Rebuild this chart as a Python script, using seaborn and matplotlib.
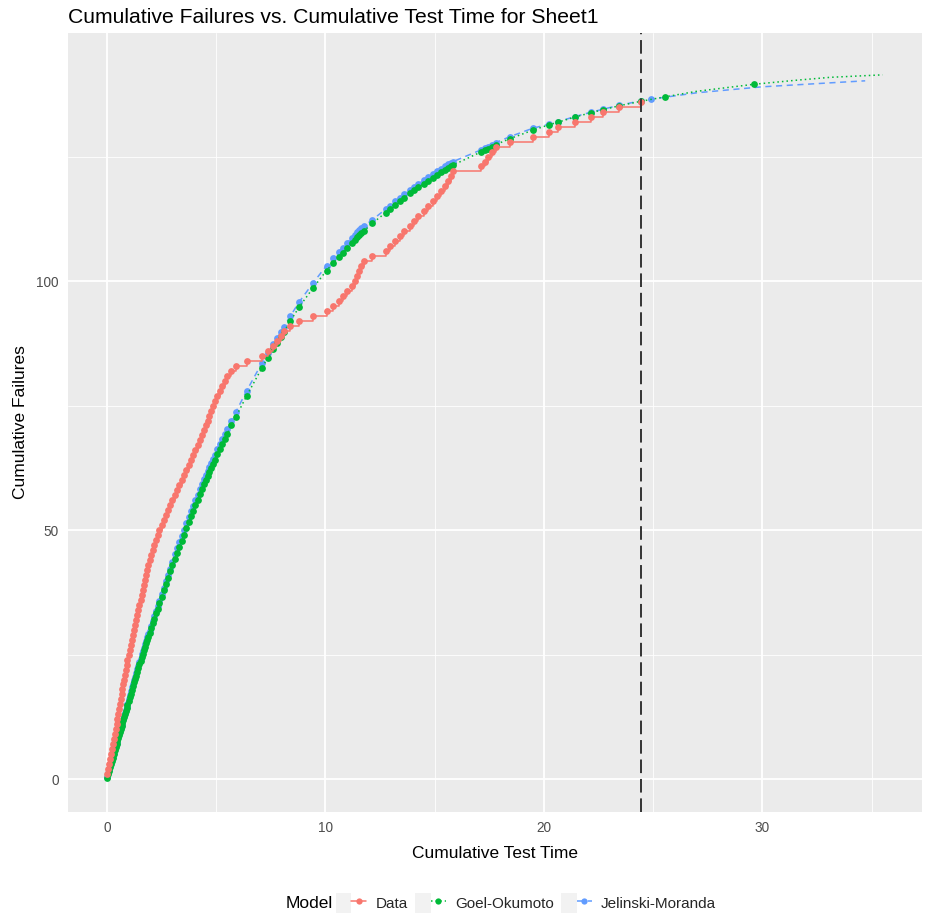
import matplotlib
matplotlib.use("Agg")
import matplotlib.pyplot as plt
import seaborn as sns
from matplotlib.lines import Line2D
from matplotlib.patches import Rectangle
from matplotlib.legend_handler import HandlerTuple

# ---------------- data ----------------
data_t = [0.02, 0.06, 0.10, 0.15, 0.19, 0.23, 0.27, 0.31, 0.36, 0.40, 0.44, 0.48,
          0.52, 0.55, 0.59, 0.63, 0.67, 0.71, 0.75, 0.78, 0.82, 0.86, 0.90, 0.94,
          0.99, 1.04, 1.09, 1.14, 1.19, 1.24, 1.29, 1.34, 1.39,
          1.44, 1.49, 1.54, 1.60, 1.65, 1.70, 1.75, 1.80, 1.85, 1.90, 1.95,
          2.02, 2.10, 2.17, 2.25, 2.32, 2.40,
          2.50, 2.60, 2.70, 2.80, 2.90, 3.00, 3.10,
          3.21, 3.32, 3.42, 3.53, 3.64, 3.75,
          3.85, 3.95, 4.05, 4.15, 4.25, 4.35,
          4.44, 4.52, 4.61, 4.69, 4.78, 4.86, 4.95,
          5.06, 5.17, 5.28, 5.39, 5.50,
          5.70, 5.90,
          6.40, 7.10, 7.35, 7.60, 7.80, 7.95, 8.10, 8.40, 8.80, 9.45,
          10.05, 10.35, 10.60, 10.80, 11.00, 11.20, 11.35, 11.45, 11.55, 11.65, 11.77,
          12.15, 12.75, 12.95, 13.20, 13.40, 13.60, 13.85, 14.05, 14.25, 14.50, 14.70,
          14.90, 15.10, 15.30, 15.45, 15.60, 15.75, 15.85,
          17.10, 17.30, 17.45, 17.60, 17.80,
          18.45, 19.50, 20.25, 20.65, 21.40, 22.15, 22.70, 23.45, 24.45]

data_n = [1, 2, 3, 4, 5, 6, 7, 8, 9, 10, 11, 12, 13, 14, 15, 16, 17, 18, 19, 20,
          21, 22, 23, 24, 25, 26, 27, 28, 29, 30, 31, 32, 33, 34, 35, 36, 37, 38, 39, 40,
          41, 42, 43, 44, 45, 46, 47, 48, 49, 50, 51, 52, 53, 54, 55, 56, 57, 58, 59, 60,
          61, 62, 63, 64, 65, 66, 67, 68, 69, 70, 71, 72, 73, 74, 75, 76, 77, 78, 79, 80,
          81, 82, 83, 84, 85, 86, 87, 88, 89, 90, 91, 92, 93, 94, 95, 96, 97, 98, 99, 100,
          101, 102, 103, 104, 105, 106, 107, 108, 109, 110, 111, 112, 113, 114, 115, 116,
          117, 118, 119, 120, 121, 122, 123, 124, 125, 126, 127, 128, 129, 130, 131, 132,
          133, 134, 135, 136]

go_n = [0.3, 1.0, 1.6, 2.4, 3.0, 3.7, 4.3, 5.0, 5.8, 6.4, 7.0, 7.7,
        8.3, 8.8, 9.4, 10.0, 10.6, 11.3, 11.9, 12.4, 13.0, 13.6, 14.2, 14.9,
        15.6, 16.4, 17.1, 17.9, 18.6, 19.4, 20.1, 20.8, 21.6,
        22.3, 23.1, 23.7, 24.6, 25.2, 25.9, 26.6, 27.3, 28.0, 28.6, 29.3,
        30.3, 31.3, 32.2, 33.3, 34.2, 35.3,
        36.6, 37.9, 39.2, 40.4, 41.7, 43.0, 44.2,
        45.4, 46.7, 47.9, 49.1, 50.4, 51.6,
        52.8, 53.9, 55.0, 56.1, 57.2, 58.2,
        59.2, 60.0, 60.9, 61.6, 62.5, 63.3, 64.1,
        65.2, 66.2, 67.2, 68.2, 69.2,
        71.0, 72.7,
        77.0, 82.6, 84.5, 86.3, 87.6, 88.7, 89.8, 92.0, 94.8, 98.7,
        102.1, 103.6, 104.8, 105.7, 106.7, 107.6, 108.3, 108.8, 109.2, 109.6, 110.1,
        111.6, 113.7, 114.4, 115.3, 116.0, 116.7, 117.6, 118.2, 118.8, 119.5, 120.1,
        120.7, 121.3, 121.8, 122.3, 122.7, 123.1, 123.3,
        125.9, 126.3, 126.6, 126.9, 127.4,
        128.6, 130.3, 131.4, 131.9, 132.9, 133.8, 134.4, 135.2, 136.1]

jm_n = [0.5, 1.2, 1.8, 2.6, 3.2, 3.9, 4.5, 5.2, 6.0, 6.6, 7.2, 7.9,
        8.5, 9.0, 9.6, 10.2, 10.8, 11.5, 12.1, 12.6, 13.2, 13.8, 14.4, 15.1,
        16.1, 16.9, 17.6, 18.4, 19.1, 19.9, 20.6, 21.3, 22.1,
        22.8, 23.6, 24.2, 25.1, 25.7, 26.4, 27.1, 27.8, 28.5, 29.1, 29.8,
        30.8, 31.8, 32.7, 33.8, 34.7, 35.8,
        37.1, 38.4, 39.7, 40.9, 42.2, 43.5, 45.2,
        46.4, 47.7, 48.9, 50.1, 51.4, 52.6,
        53.8, 54.9, 56.0, 57.1, 58.2, 59.2,
        60.2, 61.0, 61.9, 62.6, 63.5, 64.3, 65.1,
        66.2, 67.2, 68.2, 69.2, 70.2,
        72.0, 73.7,
        78.0, 83.6, 85.5, 87.3, 88.6, 89.7, 90.8, 93.0, 95.8, 99.7,
        103.1, 104.6, 105.8, 106.7, 107.7, 108.6, 109.3, 109.8, 110.2, 110.6, 111.1,
        112.3, 114.4, 115.1, 116.0, 116.7, 117.4, 118.3, 118.9, 119.5, 120.2, 120.8,
        121.4, 122.0, 122.5, 123.0, 123.4, 123.8, 124.0,
        126.3, 126.7, 127.0, 127.3, 127.8,
        129.0, 130.7, 131.5, 132.0, 133.0, 133.9, 134.5, 135.3, 136.2]

# model curves beyond the last failure
go_ext_t = [25.56, 27.0, 29.6, 31.5, 33.1, 35.5]
go_ext_n = [137.0, 138.1, 139.5, 140.3, 140.9, 141.4]
jm_ext_t = [24.88, 27.0, 30.0, 33.1, 34.7]
jm_ext_n = [136.5, 137.8, 139.0, 139.8, 140.2]
go_pred_t = [25.56, 29.6]
go_pred_n = [137.0, 139.5]
jm_pred_t = [24.88]
jm_pred_n = [136.5]

cutoff_t = 24.45

x_ticks = [0, 10, 20, 30]
y_ticks = [0, 50, 100]
legend_labels = ["Data", "Goel-Okumoto", "Jelinski-Moranda"]

# ---------------- styling ----------------
RED, GREEN, BLUE = "#F8766D", "#00BA38", "#619CFF"
sns.set_theme(style="darkgrid", rc={"axes.facecolor": "#EBEBEB", "grid.color": "white",
                                    "figure.facecolor": "white"})
plt.rcParams["font.family"] = ["Liberation Sans", "DejaVu Sans"]

fig = plt.figure(figsize=(9.28, 9.16), dpi=100)
ax = fig.add_axes([68 / 928, 1 - 812 / 916, (922 - 68) / 928, (812 - 33) / 916])

go_line_t = data_t + go_ext_t
go_line_n = go_n + go_ext_n
jm_line_t = data_t + jm_ext_t
jm_line_n = jm_n + jm_ext_n

MS = 24
# JM
sns.lineplot(x=jm_line_t, y=jm_line_n, color=BLUE, linewidth=1.1, linestyle=(0, (4, 3)),
             estimator=None, sort=False, ax=ax, zorder=2)
sns.scatterplot(x=data_t + jm_pred_t, y=jm_n + jm_pred_n, color=BLUE, s=MS, linewidth=0,
                ax=ax, zorder=2)
# GO
sns.lineplot(x=go_line_t, y=go_line_n, color=GREEN, linewidth=1.1, linestyle=(0, (1, 2)),
             estimator=None, sort=False, ax=ax, zorder=3)
sns.scatterplot(x=data_t + go_pred_t, y=go_n + go_pred_n, color=GREEN, s=MS, linewidth=0,
                ax=ax, zorder=3)
# Data
sns.lineplot(x=data_t, y=data_n, color=RED, linewidth=1.1, drawstyle="steps-post",
             estimator=None, sort=False, ax=ax, zorder=4)
sns.scatterplot(x=data_t, y=data_n, color=RED, s=MS, linewidth=0, ax=ax, zorder=4)

ax.axvline(cutoff_t, color="#333333", linewidth=1.4, linestyle=(0, (7, 3)), zorder=5)

ax.set_xlim(-1.78, 37.3)
ax.set_ylim(-6.6, 149.8)
ax.set_xticks(x_ticks)
ax.set_yticks(y_ticks)
ax.set_xticks([5, 15, 25, 35], minor=True)
ax.set_yticks([25, 75, 125], minor=True)
ax.grid(which="major", color="white", linewidth=1.3)
ax.grid(which="minor", color="white", linewidth=0.6)
ax.tick_params(which="major", length=3.5, width=1.0, color="#333333", direction="out",
               labelsize=9.8, labelcolor="#4D4D4D", pad=3)
ax.tick_params(which="minor", length=0)
for s in ax.spines.values():
    s.set_visible(False)

ax.set_xlabel("Cumulative Test Time", fontsize=12.5, color="black", labelpad=8)
ax.set_ylabel("Cumulative Failures", fontsize=12.5, color="black", labelpad=6)
ax.set_title("Cumulative Failures vs. Cumulative Test Time for Sheet1", loc="left",
             fontsize=15.2, color="black", pad=7)

# legend
handles = []
for col, ls in [(RED, "-"), (GREEN, (0, (1, 2))), (BLUE, (0, (4, 3)))]:
    bg = Rectangle((0, 0), 1, 1, facecolor="#F2F2F2", edgecolor="none")
    ln = Line2D([], [], color=col, linestyle=ls, linewidth=1.1, marker="o", markersize=4.5,
                markeredgewidth=0)
    handles.append((bg, ln))
fig.legend(handles=handles, labels=legend_labels, handler_map={tuple: HandlerTuple(ndivide=None, pad=0)},
           ncol=3, loc="center", bbox_to_anchor=(526 / 928, 1 - 903 / 916), frameon=False,
           fontsize=11, handlelength=2.0, handleheight=1.6, columnspacing=0.5, handletextpad=0.6)
fig.text(333 / 928, 1 - 903 / 916, "Model", ha="right", va="center", fontsize=12.5, color="black")

fig.savefig("out.png", dpi=100)
